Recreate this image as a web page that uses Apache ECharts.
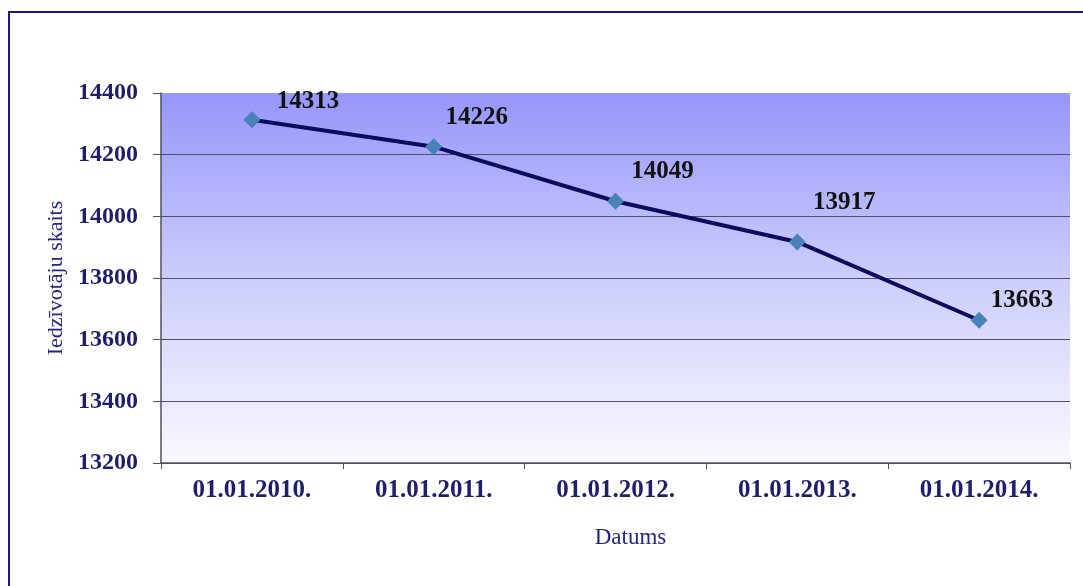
<!DOCTYPE html>
<html>
<head>
<meta charset="utf-8">
<script src="https://cdn.jsdelivr.net/npm/echarts@6/dist/echarts.min.js"></script>
<style>
html,body{margin:0;padding:0;background:#fff;}
#chart{width:1083px;height:586px;}
</style>
</head>
<body>
<div id="chart"></div>
<script>
var categories = ['01.01.2010.', '01.01.2011.', '01.01.2012.', '01.01.2013.', '01.01.2014.'];
var values = [14313, 14226, 14049, 13917, 13663];
var yTicks = [13200, 13400, 13600, 13800, 14000, 14200, 14400];
var labelShiftX = [56, 43, 47, 47, 43];
var labelShiftY = [-18, -29, -30, -39, -20];

var chart = echarts.init(document.getElementById('chart'));
var seriesData = values.map(function (v, i) {
  return { value: v, label: { offset: [labelShiftX[i], labelShiftY[i]] } };
});
chart.setOption({
  backgroundColor: '#ffffff',
  animation: false,
  graphic: [{
    type: 'rect',
    z: -10,
    shape: { x: 9, y: 12, width: 1100, height: 620 },
    style: { fill: 'none', stroke: '#1c1c78', lineWidth: 2 }
  }],
  grid: {
    left: 161, right: 13, top: 93, bottom: 123,
    show: true,
    borderWidth: 0,
    backgroundColor: new echarts.graphic.LinearGradient(0, 0, 0, 1, [
      { offset: 0, color: '#9696fb' },
      { offset: 0.5, color: '#cccdfb' },
      { offset: 1, color: '#f9f9fe' }
    ])
  },
  xAxis: {
    type: 'category',
    data: categories,
    boundaryGap: true,
    name: 'Datums',
    nameLocation: 'middle',
    nameGap: 63,
    nameTextStyle: { fontFamily: 'Liberation Serif', fontSize: 23, color: '#24248a', padding: [0, 0, 0, 30] },
    axisLine: { lineStyle: { color: '#505060', width: 1.5 } },
    axisTick: { show: true, length: 6, inside: false, lineStyle: { color: '#505060' } },
    axisLabel: { margin: 15, fontFamily: 'Liberation Serif', fontWeight: 'bold', fontSize: 25, color: '#1e1e6e' }
  },
  yAxis: {
    type: 'value',
    min: yTicks[0],
    max: yTicks[yTicks.length - 1],
    interval: 200,
    name: 'Iedzīvotāju skaits',
    nameLocation: 'middle',
    nameGap: 88,
    nameTextStyle: { fontFamily: 'Liberation Serif', fontSize: 22, color: '#24248a' },
    axisLine: { show: true, lineStyle: { color: '#505060', width: 1.5 } },
    axisTick: { show: true, length: 8, lineStyle: { color: '#505060' } },
    axisLabel: {
      margin: 23, fontFamily: 'Liberation Serif', fontWeight: 'bold', fontSize: 24, color: '#1e1e6e',
      formatter: function (v) { return String(v); }
    },
    splitLine: { show: true, lineStyle: { color: ['#505068', '#505068', '#505068', '#505068', '#505068', '#505068', 'rgba(0,0,0,0)'], width: 1.2 } }
  },
  series: [{
    type: 'line',
    data: seriesData,
    symbol: 'diamond',
    symbolSize: 17,
    itemStyle: { color: '#4a82b8' },
    lineStyle: { color: '#0c0c5c', width: 4 },
    label: {
      show: true,
      position: 'inside',
      fontFamily: 'Liberation Serif',
      fontWeight: 'bold',
      fontSize: 25,
      color: '#111111'
    },
    z: 3
  }]
});
</script>
</body>
</html>
